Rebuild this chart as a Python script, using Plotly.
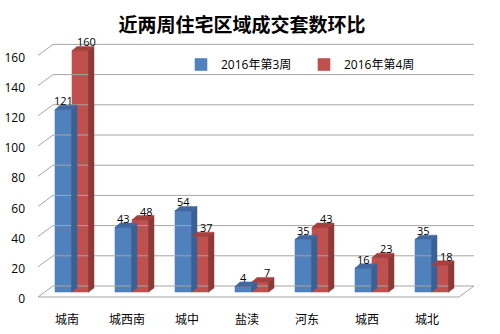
import plotly.graph_objects as go

categories = ["城南", "城西南", "城中", "盐渎", "河东", "城西", "城北"]
week3 = [121, 43, 54, 4, 35, 16, 35]
week4 = [160, 48, 37, 7, 43, 23, 18]
series_names = ["2016年第3周", "2016年第4周"]
yticks = [0, 20, 40, 60, 80, 100, 120, 140, 160]

# ---- pixel geometry (style constants) ----
PX_X = 60.0          # pixels per category
PX_Y = 1.51          # pixels per value unit
BAR_W = 17 / PX_X
OFF_BLUE = -12 / PX_X
OFF_RED = 5 / PX_X
DDX = 5 / PX_X       # bar depth (x)
DDY = 4 / PX_Y       # bar depth (y)
EPS = 0.5 / PX_X
WALL_FRONT_Y = -5 / PX_Y
WALL_BACK_Y = 6 / PX_Y
X_LEFT_FRONT = -(67 - 38) / PX_X
X_LEFT_BACK = -(67 - 53) / PX_X
X_RIGHT = (474 - 67) / PX_X
X_RIGHT_FRONT = (459 - 67) / PX_X

colors = {
    "blue": ("#4F81BD", "#3A6196", "#41699F"),
    "red": ("#C0504D", "#8C3A38", "#A5403D"),
}

fig = go.Figure()

# back wall gridlines + left diagonal
gx, gy = [], []
for v in yticks:
    gx += [X_LEFT_FRONT, X_LEFT_BACK, X_RIGHT, None]
    gy += [v + WALL_FRONT_Y, v + WALL_BACK_Y, v + WALL_BACK_Y, None]
# floor front edge and right edge
gx += [X_LEFT_FRONT, X_RIGHT_FRONT, X_RIGHT, None]
gy += [WALL_FRONT_Y, WALL_FRONT_Y, WALL_BACK_Y, None]
fig.add_trace(go.Scatter(x=gx, y=gy, mode="lines", line=dict(color="#A6A6A6", width=1),
                         hoverinfo="skip", showlegend=False))


def add_series(vals, name, off, cols):
    front, side, top = cols
    xs = list(range(len(vals)))
    fig.add_trace(go.Bar(x=xs, y=vals, name=name, width=BAR_W, offset=off,
                         marker=dict(color=front, line=dict(width=0.6, color=front))))
    sx, sy, tx, ty = [], [], [], []
    for i, v in zip(xs, vals):
        x0 = i + off
        x1 = x0 + BAR_W
        sx += [x1 - EPS, x1 + DDX, x1 + DDX, x1 - EPS, x1 - EPS, None]
        sy += [0, DDY, v + DDY, v, 0, None]
        tx += [x0, x0 + DDX, x1 + DDX, x1, x0, None]
        ty += [v - 0.3, v + DDY, v + DDY, v - 0.3, v - 0.3, None]
    fig.add_trace(go.Scatter(x=sx, y=sy, fill="toself", fillcolor=side, mode="lines",
                             line=dict(width=0.5, color=side), hoverinfo="skip", showlegend=False))
    fig.add_trace(go.Scatter(x=tx, y=ty, fill="toself", fillcolor=top, mode="lines",
                             line=dict(width=0.5, color=top), hoverinfo="skip", showlegend=False))


add_series(week3, series_names[0], OFF_BLUE, colors["blue"])
add_series(week4, series_names[1], OFF_RED, colors["red"])

# value labels
for i, v in enumerate(week3):
    fig.add_annotation(x=i + OFF_BLUE + BAR_W / 2, y=v, text=str(v), showarrow=False,
                       yanchor="bottom", yshift=-1, font=dict(size=11, color="#000000"))
for i, v in enumerate(week4):
    fig.add_annotation(x=i + OFF_RED + BAR_W / 2, y=v, text=str(v), showarrow=False,
                       yanchor="bottom", xshift=6, yshift=-1, font=dict(size=11, color="#000000"))

font_fam = "Open Sans, Noto Sans CJK SC, sans-serif"

fig.update_layout(
    width=500, height=334,
    margin=dict(l=38, r=26, t=40, b=34),
    paper_bgcolor="white", plot_bgcolor="white",
    barmode="overlay",
    font=dict(family=font_fam, size=12, color="#000000"),
    title=dict(text="<b>近两周住宅区域成交套数环比</b>", x=0.484, xanchor="center",
               y=1 - 25 / 334, yanchor="middle",
               font=dict(size=19, family="Noto Sans CJK SC", color="#000000")),
    legend=dict(orientation="h", x=(181 - 38) / 436, y=(300 - 50) / 260,
                xanchor="left", yanchor="top", bgcolor="rgba(0,0,0,0)",
                font=dict(size=12, family=font_fam),
                entrywidth=78, entrywidthmode="pixels", itemwidth=30),
    xaxis=dict(range=[X_LEFT_FRONT, X_RIGHT], tickvals=list(range(len(categories))),
               ticktext=categories, showgrid=False, zeroline=False, showline=False,
               automargin=False,
               ticks="", ticklabelstandoff=11, tickfont=dict(size=12, family="Noto Sans CJK SC")),
    yaxis=dict(range=[-8 / PX_Y, 252 / PX_Y], tickvals=yticks, showgrid=False,
               automargin=False,
               zeroline=False, showline=False, ticks="", ticklabelshift=7,
               ticklabelstandoff=12, tickfont=dict(size=12)),
)

fig.write_html("out.html")
